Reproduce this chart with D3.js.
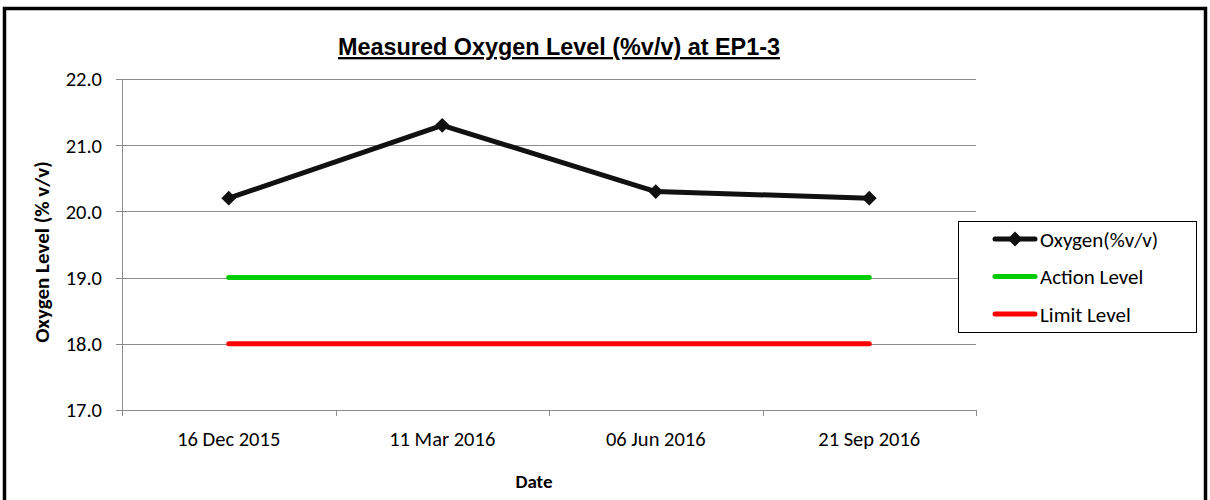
<!DOCTYPE html>
<html>
<head>
<meta charset="utf-8">
<script src="https://cdn.jsdelivr.net/npm/d3@7"></script>
<style>
  body { margin: 0; background: #fff; }
  svg { display: block; }
</style>
</head>
<body>
<svg id="chart" width="1210" height="500"></svg>
<script>
// chart data
var dates = ["16 Dec 2015", "11 Mar 2016", "06 Jun 2016", "21 Sep 2016"];
var oxygen = [20.2, 21.3, 20.3, 20.2];
var actionLevel = [19.0, 19.0, 19.0, 19.0];
var limitLevel = [18.0, 18.0, 18.0, 18.0];
var yTicks = [17, 18, 19, 20, 21, 22];

var svg = d3.select("#chart");
var calibri = "Carlito, Lato, sans-serif";

// outer frame
svg.append("rect")
  .attr("x", 4.5).attr("y", 8.5)
  .attr("width", 1201).attr("height", 500)
  .attr("fill", "none")
  .attr("stroke", "#000")
  .attr("stroke-width", 3.5);

var margin = { left: 122, top: 79, right: 976, bottom: 410 };

var x = d3.scaleBand()
  .domain(dates)
  .range([margin.left, margin.right]);

var y = d3.scaleLinear()
  .domain([17, 22])
  .range([margin.bottom, margin.top]);

// gridlines
svg.append("g")
  .selectAll("line")
  .data(yTicks)
  .enter()
  .append("line")
  .attr("x1", margin.left - 6)
  .attr("x2", margin.right)
  .attr("y1", function(d) { return Math.round(y(d)) + 0.5; })
  .attr("y2", function(d) { return Math.round(y(d)) + 0.5; })
  .attr("stroke", "#8c8c8c")
  .attr("stroke-width", 1);

// y axis line
svg.append("line")
  .attr("x1", margin.left + 0.5).attr("x2", margin.left + 0.5)
  .attr("y1", margin.top).attr("y2", margin.bottom)
  .attr("stroke", "#8c8c8c");

// y tick labels
svg.append("g")
  .selectAll("text")
  .data(yTicks)
  .enter()
  .append("text")
  .attr("x", margin.left - 20)
  .attr("y", function(d) { return y(d); })
  .attr("dy", "0.36em")
  .attr("text-anchor", "end")
  .style("font-family", calibri)
  .style("font-size", "20.5px")
  .text(function(d) { return d.toFixed(1); });

// x axis ticks at band boundaries
var bounds = dates.map(function(d) { return x(d); }).concat([margin.right]);
svg.append("g")
  .selectAll("line")
  .data(bounds)
  .enter()
  .append("line")
  .attr("x1", function(d) { return Math.round(d) + 0.5; })
  .attr("x2", function(d) { return Math.round(d) + 0.5; })
  .attr("y1", margin.bottom)
  .attr("y2", margin.bottom + 6)
  .attr("stroke", "#8c8c8c");

// x tick labels
svg.append("g")
  .selectAll("text")
  .data(dates)
  .enter()
  .append("text")
  .attr("x", function(d) { return x(d) + x.bandwidth() / 2; })
  .attr("y", 446)
  .attr("text-anchor", "middle")
  .style("font-family", calibri)
  .style("font-size", "20.5px")
  .text(function(d) { return d; });

// axis titles
svg.append("text")
  .attr("x", 534).attr("y", 488)
  .attr("text-anchor", "middle")
  .style("font-family", calibri)
  .style("font-size", "19px")
  .style("font-weight", "bold")
  .text("Date");

svg.append("text")
  .attr("transform", "translate(49,252) rotate(-90)")
  .attr("text-anchor", "middle")
  .style("font-family", calibri)
  .style("font-size", "21px")
  .style("font-weight", "bold")
  .text("Oxygen Level (% v/v)");

// title
svg.append("text")
  .attr("x", 559).attr("y", 55)
  .attr("text-anchor", "middle")
  .style("font-family", "'Liberation Sans', Arial, sans-serif")
  .style("font-size", "23.4px")
  .style("font-weight", "bold")
  .style("text-decoration", "underline")
  .text("Measured Oxygen Level (%v/v) at EP1-3");

var line = d3.line()
  .x(function(d, i) { return x(dates[i]) + x.bandwidth() / 2; })
  .y(function(d) { return y(d); });

var series = [
  { name: "Limit Level", values: limitLevel, color: "#ff0000", marker: false },
  { name: "Action Level", values: actionLevel, color: "#00cc00", marker: false },
  { name: "Oxygen(%v/v)", values: oxygen, color: "#111111", marker: true }
];

series.forEach(function(s) {
  svg.append("path")
    .datum(s.values)
    .attr("d", line)
    .attr("fill", "none")
    .attr("stroke", s.color)
    .attr("stroke-width", 5)
    .attr("stroke-linecap", "round")
    .attr("stroke-linejoin", "round");
});

var diamond = d3.symbol().type(d3.symbolDiamond2).size(140);
svg.append("g")
  .selectAll("path")
  .data(oxygen)
  .enter()
  .append("path")
  .attr("transform", function(d, i) {
    return "translate(" + (x(dates[i]) + x.bandwidth() / 2) + "," + y(d) + ")";
  })
  .attr("d", diamond)
  .attr("fill", "#111111");

// legend
var legend = svg.append("g");
legend.append("rect")
  .attr("x", 958.5).attr("y", 221.5)
  .attr("width", 238).attr("height", 111)
  .attr("fill", "#fff")
  .attr("stroke", "#000")
  .attr("stroke-width", 1);

var legendItems = series.slice().reverse();
legendItems.forEach(function(s, i) {
  var ly = 239 + i * 37.5;
  legend.append("line")
    .attr("x1", 995).attr("x2", 1035)
    .attr("y1", ly).attr("y2", ly)
    .attr("stroke", s.color)
    .attr("stroke-width", 5)
    .attr("stroke-linecap", "round");
  if (s.marker) {
    legend.append("path")
      .attr("transform", "translate(1015," + ly + ")")
      .attr("d", diamond)
      .attr("fill", s.color);
  }
  legend.append("text")
    .attr("x", 1040).attr("y", ly)
    .attr("dy", "0.36em")
    .style("font-family", calibri)
    .style("font-size", "21px")
    .text(s.name);
});
</script>
</body>
</html>
